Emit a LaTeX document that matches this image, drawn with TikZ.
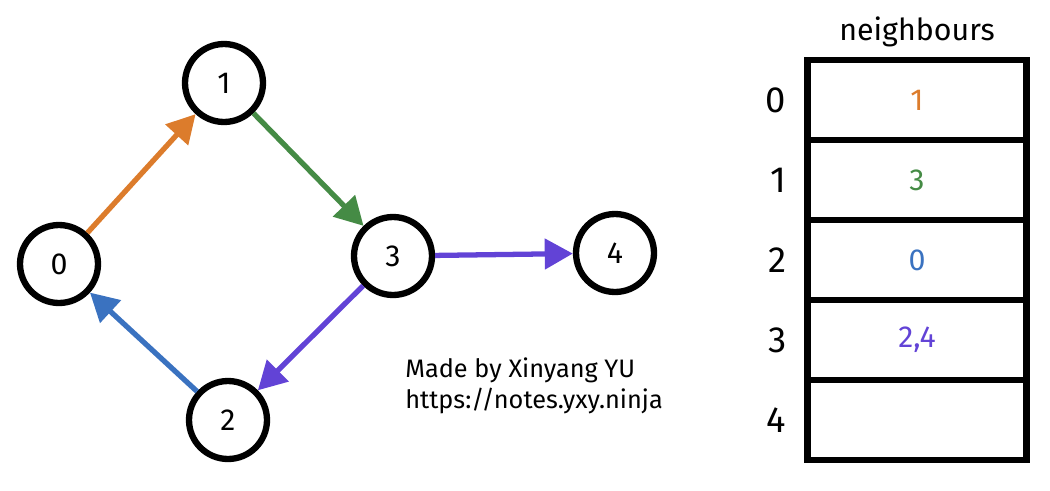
\documentclass[tikz,border=0pt]{standalone}
\usepackage{fontspec}
\setmainfont{Fira Sans}
\usepackage{xcolor}
\usetikzlibrary{arrows.meta,positioning}
\definecolor{edgeorange}{HTML}{DC7C2C}
\definecolor{edgegreen}{HTML}{458B45}
\definecolor{edgeblue}{HTML}{3A72C0}
\definecolor{edgepurple}{HTML}{6243D6}

\begin{document}
\begin{tikzpicture}[x=0.02cm, y=-0.02cm,
                    vertex/.style={draw, circle, line width=3.6pt, minimum size=1.56cm, inner sep=0pt, font=\LARGE},
                    cell/.style={draw, rectangle, line width=3.6pt, minimum width=4.38cm, minimum height=1.6cm, outer sep=0pt, font=\LARGE},
                    rowlabel/.style={left=0.3cm of #1, font=\huge},
                    line/.style={draw, line width=3pt, -{Triangle[length=16pt, width=17pt]}},
                    note/.style={align=left, font=\Large, anchor=west, inner sep=0pt}]
    \useasboundingbox (0,0) rectangle (1050,490);
    % Nodes
    \node [vertex] (v0) at (59,264)  {0};
    \node [vertex] (v1) at (224,83)  {1};
    \node [vertex] (v3) at (393,256) {3};
    \node [vertex] (v4) at (615,253) {4};
    \node [vertex] (v2) at (228,420) {2};

    \node [note] (credit) at (405,386) {Made by Xinyang YU\\https://notes.yxy.ninja};

    \node [cell]                     (cell0) at (917,100) {\textcolor{edgeorange}{1}};
    \node [cell, below=0pt of cell0] (cell1) {\textcolor{edgegreen}{3}};
    \node [cell, below=0pt of cell1] (cell2) {\textcolor{edgeblue}{0}};
    \node [cell, below=0pt of cell2] (cell3) {\textcolor{edgepurple}{2,4}};
    \node [cell, below=0pt of cell3] (cell4) {};
    \node [above=0.14cm of cell0, font=\LARGE] (title) {neighbours};

    \node [rowlabel=cell0] (row0) {0};
    \node [rowlabel=cell1] (row1) {1};
    \node [rowlabel=cell2] (row2) {2};
    \node [rowlabel=cell3] (row3) {3};
    \node [rowlabel=cell4] (row4) {4};

    % Paths
    \path [line, edgeorange] (v0) -- (v1);
    \path [line, edgegreen]  (v1) -- (v3);
    \path [line, edgepurple] (v3) -- (v4);
    \path [line, edgepurple] (v3) -- (v2);
    \path [line, edgeblue]   (v2) -- (v0);
\end{tikzpicture}
\end{document}
